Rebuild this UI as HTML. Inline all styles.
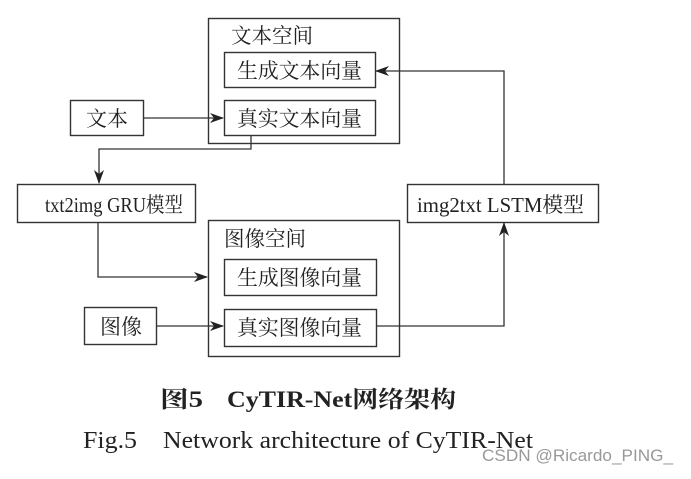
<!DOCTYPE html>
<html><head><meta charset="utf-8"><style>
html,body{margin:0;padding:0;background:#fff;}
body{width:691px;height:474px;overflow:hidden;}
</style></head><body>
<svg width="691" height="474" viewBox="0 0 691 474" xmlns="http://www.w3.org/2000/svg">
<defs><marker id="a" markerWidth="14" markerHeight="10" refX="13" refY="5" orient="auto" markerUnits="userSpaceOnUse"><path d="M0,0 L14,5 L0,10 L4,5 z" fill="#222"/></marker></defs>
<g fill="none" stroke="#333" stroke-width="1.4">
<rect x="208.5" y="18.5" width="191" height="125"/>
<rect x="224.5" y="52.5" width="151" height="35"/>
<rect x="224.5" y="100.5" width="151" height="35"/>
<rect x="70.5" y="100.5" width="73" height="35"/>
<rect x="17.5" y="184.5" width="178" height="38"/>
<rect x="407.5" y="184.5" width="191" height="38"/>
<rect x="208.5" y="220.5" width="191" height="136"/>
<rect x="224.5" y="259.5" width="152" height="36"/>
<rect x="224.5" y="309.5" width="152" height="37"/>
<rect x="84.5" y="307.5" width="72" height="37"/>
</g>
<g fill="none" stroke="#333" stroke-width="1.3">
<path d="M143,118 H223" marker-end="url(#a)"/>
<path d="M251,136 V149 H99 V183" marker-end="url(#a)"/>
<path d="M98,223 V277 H207" marker-end="url(#a)"/>
<path d="M157,326 H223" marker-end="url(#a)"/>
<path d="M377,326 H504 V223" marker-end="url(#a)"/>
<path d="M504,184 V71 H376" marker-end="url(#a)"/>
</g>
<g font-family="'Liberation Serif','Noto Serif CJK SC',serif" font-size="21" fill="#222">
<text x="231" y="43" textLength="82" lengthAdjust="spacingAndGlyphs">文本空间</text>
<text x="237" y="78" textLength="125" lengthAdjust="spacingAndGlyphs">生成文本向量</text>
<text x="237" y="126" textLength="125" lengthAdjust="spacingAndGlyphs">真实文本向量</text>
<text x="86" y="126" textLength="42" lengthAdjust="spacingAndGlyphs">文本</text>
<text x="45" y="212" textLength="138" lengthAdjust="spacingAndGlyphs">txt2img GRU模型</text>
<text x="417" y="212" textLength="167" lengthAdjust="spacingAndGlyphs">img2txt LSTM模型</text>
<text x="224" y="246" textLength="82" lengthAdjust="spacingAndGlyphs">图像空间</text>
<text x="237" y="285" textLength="125" lengthAdjust="spacingAndGlyphs">生成图像向量</text>
<text x="237" y="335" textLength="125" lengthAdjust="spacingAndGlyphs">真实图像向量</text>
<text x="100" y="334" textLength="42" lengthAdjust="spacingAndGlyphs">图像</text>
<text x="160" y="407" font-weight="bold" font-size="23" textLength="43" lengthAdjust="spacingAndGlyphs">图5</text>
<text x="227" y="407" font-weight="bold" font-size="23" textLength="229" lengthAdjust="spacingAndGlyphs">CyTIR-Net网络架构</text>
<text x="83" y="448" font-size="24" textLength="54" lengthAdjust="spacingAndGlyphs">Fig.5</text>
<text x="163" y="448" font-size="24" textLength="370" lengthAdjust="spacingAndGlyphs">Network architecture of CyTIR-Net</text>
</g>
<text x="482" y="461" font-family="'Liberation Sans',sans-serif" font-size="17" fill="#999" textLength="191" lengthAdjust="spacingAndGlyphs">CSDN @Ricardo_PING_</text>
</svg>
</body></html>
